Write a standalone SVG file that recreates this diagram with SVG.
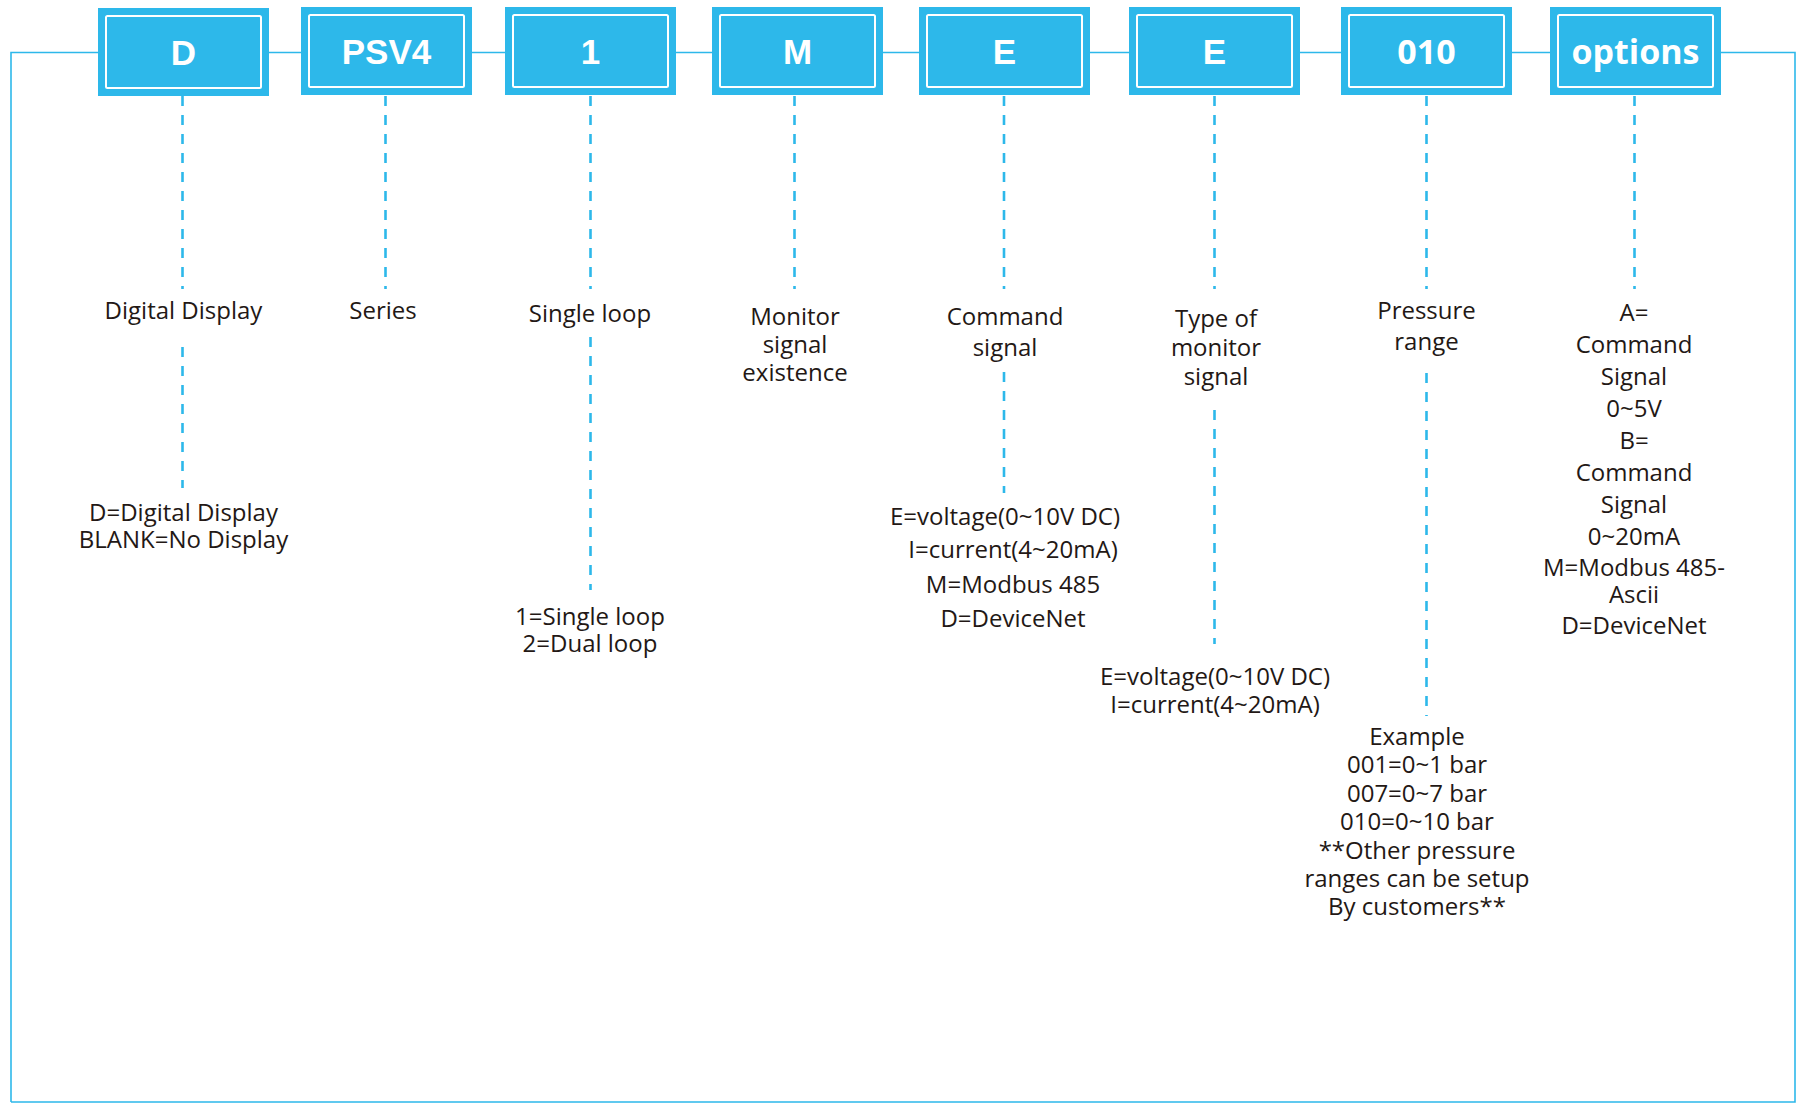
<svg xmlns="http://www.w3.org/2000/svg" width="1797" height="1104" viewBox="0 0 1797 1104">
<style>
.box{fill:#2db8ea}
.inner{fill:none;stroke:#ffffff;stroke-width:2}
.bt{font-family:"Liberation Sans",Arial,sans-serif;font-weight:bold;font-size:35px;fill:#ffffff;text-anchor:middle}
.bt2{font-family:"Open Sans","Noto Sans",sans-serif;font-weight:bold;font-size:34px;fill:#ffffff;text-anchor:middle}
.lbl{font-family:"Open Sans","Noto Sans",sans-serif;font-size:24px;fill:#231815;text-anchor:middle}
.dash{stroke:#2db8ea;stroke-width:2.6;stroke-dasharray:10 9;fill:none}
.line{stroke:#2db8ea;stroke-width:1.6;fill:none}
</style>
<rect width="1797" height="1104" fill="#ffffff"/>
<g id="connectors">
<path class="line" d="M11,1102 V52.5 H1795 V1102 H11"/>
<path class="dash" d="M182.5,96 V289 M182.5,347 V488"/>
<path class="dash" d="M385.5,96 V289"/>
<path class="dash" d="M590.5,96 V289 M590.5,337 V590"/>
<path class="dash" d="M794.5,96 V289"/>
<path class="dash" d="M1004,96 V289 M1004,372 V493"/>
<path class="dash" d="M1214.5,96 V289 M1214.5,410 V644"/>
<path class="dash" d="M1426.5,96 V289 M1426.5,373 V716"/>
<path class="dash" d="M1634.5,96 V289"/>
</g>
<g id="node-d">
<rect class="box" x="98" y="8" width="171" height="88"/>
<rect class="inner" x="106" y="16" width="155" height="72" rx="1.5"/>
<text class="bt" x="183.5" y="65">D</text>
</g>
<g id="node-psv4">
<rect class="box" x="301" y="7" width="171" height="88"/>
<rect class="inner" x="309" y="15" width="155" height="72" rx="1.5"/>
<text class="bt" x="386.5" y="64">PSV4</text>
</g>
<g id="node-1">
<rect class="box" x="505" y="7" width="171" height="88"/>
<rect class="inner" x="513" y="15" width="155" height="72" rx="1.5"/>
<text class="bt" x="590.5" y="64">1</text>
</g>
<g id="node-m">
<rect class="box" x="712" y="7" width="171" height="88"/>
<rect class="inner" x="720" y="15" width="155" height="72" rx="1.5"/>
<text class="bt" x="797.5" y="64">M</text>
</g>
<g id="node-e1">
<rect class="box" x="919" y="7" width="171" height="88"/>
<rect class="inner" x="927" y="15" width="155" height="72" rx="1.5"/>
<text class="bt" x="1004.5" y="64">E</text>
</g>
<g id="node-e2">
<rect class="box" x="1129" y="7" width="171" height="88"/>
<rect class="inner" x="1137" y="15" width="155" height="72" rx="1.5"/>
<text class="bt" x="1214.5" y="64">E</text>
</g>
<g id="node-010">
<rect class="box" x="1341" y="7" width="171" height="88"/>
<rect class="inner" x="1349" y="15" width="155" height="72" rx="1.5"/>
<text class="bt2" x="1426.5" y="64">010</text>
</g>
<g id="node-options">
<rect class="box" x="1550" y="7" width="171" height="88"/>
<rect class="inner" x="1558" y="15" width="155" height="72" rx="1.5"/>
<text class="bt2" x="1635.5" y="64">options</text>
</g>
<g id="label-d">
<text class="lbl" x="183.5" y="319">Digital Display</text>
<text class="lbl" x="183.5"><tspan x="183.5" y="521">D=Digital Display</tspan><tspan x="183.5" y="548">BLANK=No Display</tspan></text>
</g>
<g id="label-series">
<text class="lbl" x="383" y="319">Series</text>
</g>
<g id="label-loop">
<text class="lbl" x="590" y="322">Single loop</text>
<text class="lbl"><tspan x="590" y="625">1=Single loop</tspan><tspan x="590" y="652">2=Dual loop</tspan></text>
</g>
<g id="label-monitor">
<text class="lbl"><tspan x="795" y="325">Monitor</tspan><tspan x="795" y="353">signal</tspan><tspan x="795" y="381">existence</tspan></text>
</g>
<g id="label-command">
<text class="lbl"><tspan x="1005" y="325">Command</tspan><tspan x="1005" y="356">signal</tspan></text>
<text class="lbl"><tspan x="1005" y="525">E=voltage(0~10V DC)</tspan><tspan x="1013" y="558">I=current(4~20mA)</tspan><tspan x="1013" y="593">M=Modbus 485</tspan><tspan x="1013" y="627">D=DeviceNet</tspan></text>
</g>
<g id="label-type">
<text class="lbl"><tspan x="1216" y="327">Type of</tspan><tspan x="1216" y="356">monitor</tspan><tspan x="1216" y="385">signal</tspan></text>
<text class="lbl"><tspan x="1215" y="685">E=voltage(0~10V DC)</tspan><tspan x="1215" y="713">I=current(4~20mA)</tspan></text>
</g>
<g id="label-pressure">
<text class="lbl"><tspan x="1426.5" y="319">Pressure</tspan><tspan x="1426.5" y="350">range</tspan></text>
<text class="lbl"><tspan x="1417" y="745">Example</tspan><tspan x="1417" y="773">001=0~1 bar</tspan><tspan x="1417" y="802">007=0~7 bar</tspan><tspan x="1417" y="830">010=0~10 bar</tspan><tspan x="1417" y="859">**Other pressure</tspan><tspan x="1417" y="887">ranges can be setup</tspan><tspan x="1417" y="915">By customers**</tspan></text>
</g>
<g id="label-options">
<text class="lbl"><tspan x="1634" y="321">A=</tspan><tspan x="1634" y="353">Command</tspan><tspan x="1634" y="385">Signal</tspan><tspan x="1634" y="417">0~5V</tspan><tspan x="1634" y="449">B=</tspan><tspan x="1634" y="481">Command</tspan><tspan x="1634" y="513">Signal</tspan><tspan x="1634" y="545">0~20mA</tspan><tspan x="1634" y="576">M=Modbus 485-</tspan><tspan x="1634" y="603">Ascii</tspan><tspan x="1634" y="634">D=DeviceNet</tspan></text>
</g>
</svg>
